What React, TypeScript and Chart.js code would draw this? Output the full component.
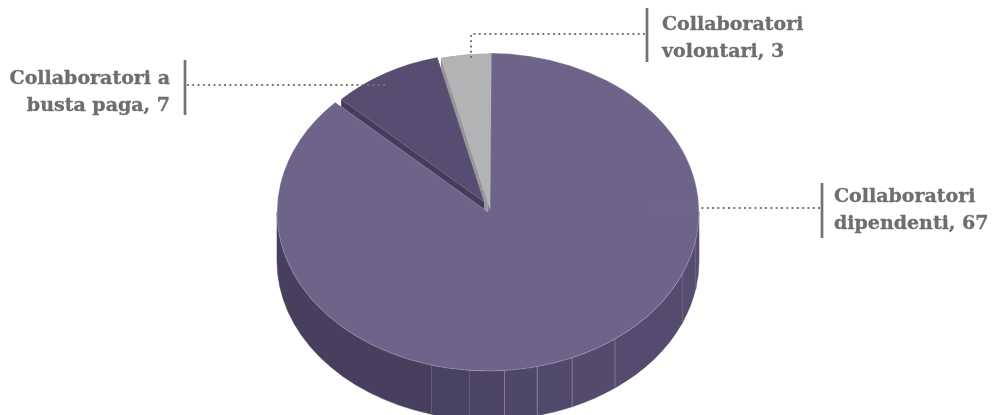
import React, { useEffect, useRef } from "react";
import { Chart, registerables } from "chart.js";

Chart.register(...registerables);

const categories = ["Collaboratori dipendenti", "Collaboratori a busta paga", "Collaboratori volontari"];
const values = [67, 7, 3];
const sliceColors = ["#6e6489", "#564d70", "#b2b3b5"];
const wallColors = ["#483f5e", "#453d5c", "#97979b"];

const labelLines = [
  ["Collaboratori", "dipendenti, 67"],
  ["Collaboratori a", "busta paga, 7"],
  ["Collaboratori", "volontari, 3"],
];

const START_DEG = 0.35;
const radiusFactors = [1, 0.935, 0.985];
const shiftXFactors = [0, -0.019, 0.01];
const shiftYFactors = [0, -0.064, -0.0126];

const CENTER_X = 488;
const CENTER_Y = 212;
const RADIUS_X = 211;
const RADIUS_Y = 159;
const DEPTH = 49;

const stripEdges = [90, 100, 113, 143, 156.5, 166.5, 175.5, 185, 195.5, 270];
const stripColors = ["#574e71", "#564d70", "#544b6e", "#534a6c", "#514969", "#4f4767", "#4c4464", "#4a4261", "#483f5e"];

const GREY = "#6d6e71";
const LINE = "#737377";
const FONT = "bold 19px 'DejaVu Serif'";

const labelLayout = [
  { x: 834, y: 202, align: "left" as const, bar: [822, 183, 238], path: [[820, 208], [648, 208]] },
  { x: 170, y: 84, align: "right" as const, bar: [185, 60, 115], path: [[187, 85], [385, 85]] },
  { x: 662, y: 30, align: "left" as const, bar: [647, 8, 62], path: [[645, 34], [471, 34], [471, 60]] },
];

const rad = (d: number) => ((d - 90) * Math.PI) / 180;

function pieTransform(ctx: CanvasRenderingContext2D, arc: any, R: number) {
  const sx = RADIUS_X / R;
  const sy = RADIUS_Y / R;
  ctx.translate(CENTER_X, CENTER_Y);
  ctx.scale(sx, sy);
  ctx.translate(-arc.baseX, -arc.baseY);
  return { sx, sy };
}

const pie3d = {
  id: "pie3d",
  afterDatasetsUpdate(chart: any) {
    const arcs = chart.getDatasetMeta(0).data;
    arcs.forEach((arc: any, i: number) => {
      const R = arc.outerRadius;
      arc.baseX = arc.x;
      arc.baseY = arc.y;
      arc.baseR = R;
      arc.x += R * shiftXFactors[i];
      arc.y += R * shiftYFactors[i];
      arc.outerRadius = R * radiusFactors[i];
    });
  },
  beforeDatasetsDraw(chart: any) {
    const ctx: CanvasRenderingContext2D = chart.ctx;
    const arcs = chart.getDatasetMeta(0).data;
    const R = arcs[0].baseR;
    ctx.save();
    const { sy } = pieTransform(ctx, arcs[0], R);
    const shift = DEPTH / sy;

    // walls of the two small slices: the slice swept downward
    [2, 1].forEach((i) => {
      const a = arcs[i];
      ctx.fillStyle = wallColors[i];
      for (let d = shift; d >= 0; d -= 0.5) {
        ctx.beginPath();
        ctx.moveTo(a.x, a.y + d);
        ctx.arc(a.x, a.y + d, a.outerRadius, a.startAngle, a.endAngle);
        ctx.closePath();
        ctx.fill();
      }
    });

    // wall of the large slice, made of flat strips
    const big = arcs[0];
    stripColors.forEach((color, i) => {
      const s = rad(stripEdges[i + 1]);
      const e = rad(stripEdges[i]);
      ctx.beginPath();
      ctx.arc(big.x, big.y, big.outerRadius, e, s);
      ctx.arc(big.x, big.y + shift, big.outerRadius, s, e, true);
      ctx.closePath();
      ctx.fillStyle = color;
      ctx.strokeStyle = color;
      ctx.lineWidth = 0.6;
      ctx.fill();
      ctx.stroke();
    });
    stripEdges.slice(1, -1).forEach((deg, i) => {
      const a = rad(deg);
      const px = big.x + Math.cos(a) * big.outerRadius;
      const py = big.y + Math.sin(a) * big.outerRadius;
      ctx.beginPath();
      ctx.moveTo(px, py);
      ctx.lineTo(px, py + shift);
      ctx.strokeStyle = i >= 2 && i <= 5 ? "rgba(255,255,255,0.38)" : "rgba(255,255,255,0.14)";
      ctx.lineWidth = 0.8;
      ctx.stroke();
    });
  },
  afterDatasetsDraw(chart: any) {
    const ctx: CanvasRenderingContext2D = chart.ctx;
    ctx.restore();

    labelLayout.forEach((item, i) => {
      ctx.save();
      ctx.strokeStyle = LINE;
      ctx.lineWidth = 2.7;
      ctx.beginPath();
      ctx.moveTo(item.bar[0], item.bar[1]);
      ctx.lineTo(item.bar[0], item.bar[2]);
      ctx.stroke();

      ctx.lineWidth = 2;
      ctx.setLineDash([1.9, 3.4]);
      ctx.beginPath();
      item.path.forEach(([x, y], k) => (k === 0 ? ctx.moveTo(x, y) : ctx.lineTo(x, y)));
      ctx.stroke();
      ctx.restore();

      ctx.save();
      ctx.fillStyle = GREY;
      ctx.strokeStyle = GREY;
      ctx.lineWidth = 0.35;
      ctx.font = FONT;
      ctx.textAlign = item.align;
      ctx.textBaseline = "alphabetic";
      labelLines[i].forEach((line, k) => {
        ctx.fillText(line, item.x, item.y + k * 27);
        ctx.strokeText(line, item.x, item.y + k * 27);
      });
      ctx.restore();
    });
  },
};

export default function App() {
  const ref = useRef<HTMLCanvasElement>(null);
  useEffect(() => {
    document.body.style.margin = "0";
    const chart = new Chart(ref.current!, {
      type: "pie",
      data: {
        labels: categories,
        datasets: [
          {
            data: values,
            backgroundColor: sliceColors,
            borderColor: ["rgba(255,255,255,0.35)", "rgba(255,255,255,0.3)", "rgba(255,255,255,0.2)"],
            borderWidth: 0.7,
            borderAlign: "center",
            clip: false,
          } as any,
        ],
      },
      options: {
        responsive: false,
        animation: false,
        rotation: START_DEG,
        layout: { padding: 0 },
        plugins: { legend: { display: false }, tooltip: { enabled: false } },
      },
      plugins: [pie3d],
    });
    return () => chart.destroy();
  }, []);
  return (
    <div style={{ width: 992, height: 415, overflow: "hidden" }}>
      <canvas ref={ref} width={992} height={415} style={{ display: "block" }} />
    </div>
  );
}
